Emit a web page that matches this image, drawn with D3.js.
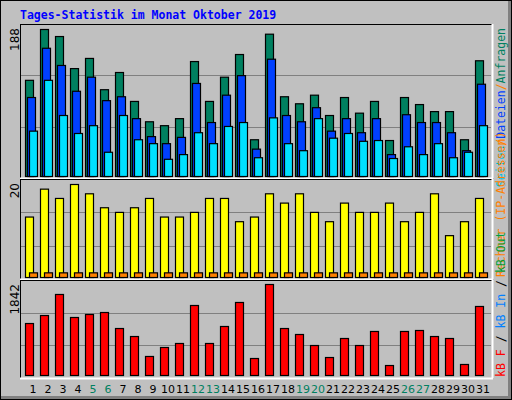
<!DOCTYPE html>
<html><head><meta charset="utf-8">
<script src="https://cdn.jsdelivr.net/npm/d3@7"></script>
<style>body{margin:0;background:#fff}svg{display:block}</style>
</head><body>
<script>
const days = d3.range(1, 32);
const weekend = [5,6,12,13,19,20,26,27];
const hits  = [123,188,179,138,151,111,133,96,70,65,74,147,96,127,156,47,182,102,93,104,78,101,81,96,46,101,92,83,83,47,148];
const files = [101,164,142,109,127,97,102,74,51,42,50,119,69,104,129,35,150,78,70,88,58,74,56,74,28,79,69,69,56,33,118];
const pages = [58,123,78,55,65,31,78,47,42,22,28,56,42,64,69,24,75,42,33,74,49,55,45,46,23,38,28,42,24,31,65];
const visits= [13,19,17,20,18,15,14,15,17,13,13,14,17,17,12,13,18,16,18,14,12,16,14,14,16,12,14,18,9,12,17];
const sites = days.map(()=>1);
const kbytes= [1052,1214,1640,1174,1235,1275,951,789,385,567,648,1417,648,992,1478,344,1842,951,830,607,364,749,607,891,202,891,911,789,749,223,1397];
const maxLabels = ["188","20","1842"];

const W=512,H=400;
const svg=d3.select("body").append("svg").attr("width",W).attr("height",H);
svg.append("rect").attr("width",W).attr("height",H).attr("fill","#c0c0c0");
svg.append("rect").attr("x",0.5).attr("y",0.5).attr("width",W-1).attr("height",H-1).attr("fill","none").attr("stroke","#000");
svg.append("rect").attr("x",1).attr("y",396).attr("width",W-2).attr("height",3).attr("fill","#808080");
svg.append("rect").attr("x",508).attr("y",1).attr("width",3).attr("height",H-2).attr("fill","#808080");

svg.append("text").attr("x",20).attr("y",19).attr("fill","#0000ff")
  .attr("font-family","DejaVu Sans Mono").attr("font-weight","bold").attr("font-size","11.5px")
  .text("Tages-Statistik im Monat Oktober 2019");

const x=d3.scaleLinear().domain([1,31]).range([25,475]);
const panels=[
 {top:24,bot:178,y:d3.scaleLinear().domain([0,188]).range([176,29])},
 {top:179,bot:279,y:d3.scaleLinear().domain([0,20]).range([277,184])},
 {top:280,bot:378,y:d3.scaleLinear().domain([0,1842]).range([375,284])}
];
panels.forEach((p,i)=>{
  const g=svg.append("g");
  g.append("line").attr("x1",20).attr("x2",492).attr("y1",p.top+0.5).attr("y2",p.top+0.5).attr("stroke","#000");
  g.append("line").attr("x1",20.5).attr("x2",20.5).attr("y1",p.top).attr("y2",p.bot).attr("stroke","#000");
  g.append("line").attr("x1",20).attr("x2",493).attr("y1",p.bot+0.5).attr("y2",p.bot+0.5).attr("stroke","#fff").attr("stroke-width",2);
  g.append("line").attr("x1",492.5).attr("x2",492.5).attr("y1",p.top).attr("y2",p.bot).attr("stroke","#fff").attr("stroke-width",2);
  const h=(p.bot-p.top)/3;
  [1,2].forEach(k=>g.append("line").attr("x1",21).attr("x2",491)
     .attr("y1",Math.round(p.top+h*k)+0.5).attr("y2",Math.round(p.top+h*k)+0.5).attr("stroke","#808080"));
  svg.append("text").attr("transform",`translate(19,${p.top+4}) rotate(-90)`).attr("text-anchor","end")
    .attr("font-family","DejaVu Sans").attr("font-size","12px").attr("fill","#000").text(maxLabels[i]);
});

function bars(data,y,dx,color){
  svg.append("g").selectAll("rect").data(data).join("rect")
    .attr("x",(d,i)=>x(i+1)+dx+0.5).attr("width",8)
    .attr("y",d=>y(d)+0.5).attr("height",d=>y(0)-y(d))
    .attr("fill",color).attr("stroke","#000").attr("stroke-width",1.2);
}
bars(hits,panels[0].y,0,"#008060");
bars(files,panels[0].y,2,"#0040ff");
bars(pages,panels[0].y,4,"#00e0ff");
bars(visits,panels[1].y,0,"#ffff00");
bars(sites,panels[1].y,4,"#ff8000");
bars(kbytes,panels[2].y,0,"#ff0000");

svg.append("g").selectAll("text").data(days).join("text")
  .attr("x",d=>x(d)+8).attr("y",393).attr("text-anchor","middle")
  .attr("font-family","DejaVu Sans").attr("font-size","11px")
  .attr("fill",d=>weekend.includes(d)?"#008060":"#000").text(d=>d);

function sideLabel(yPos,anchor,parts){
  const t=svg.append("text").attr("transform",`translate(505,${yPos}) rotate(-90)`).attr("text-anchor",anchor)
    .attr("font-family","DejaVu Sans Mono").attr("font-size","11.5px");
  parts.forEach(([s,c])=>t.append("tspan").attr("fill",c).text(s));
}
sideLabel(28,"end",[["Seiten","#00c0e0"],["/","#ff8000"],["Dateien","#0040ff"],["/","#ff8000"],["Anfragen","#008060"]]);
sideLabel(277,"start",[["Rechner (IP-Adressen)","#ff8000"]]);
sideLabel(377,"start",[["kB F","#ff0000"],[" / ","#000"],["kB In","#0080ff"],[" / ","#000"],["kB Out","#00a040"]]);
</script>
</body></html>
